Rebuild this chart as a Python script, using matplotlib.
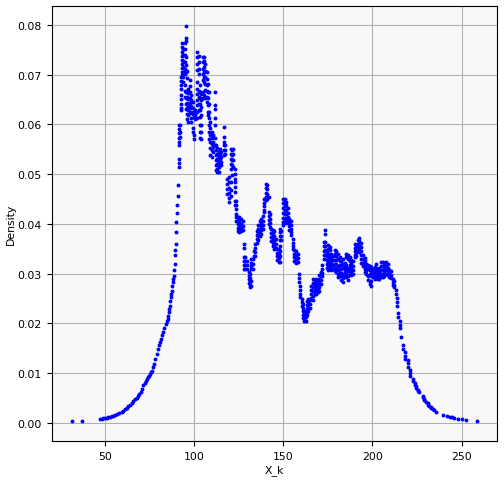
import matplotlib
matplotlib.use("Agg")
import matplotlib.pyplot as plt
import numpy as np

# Each column: an X_k value and the density values observed at it
col_x = [
    31.4, 37.0, 47.2, 48.2, 49.1, 50.0, 50.9, 51.8, 52.8, 53.7, 54.7, 55.6, 56.5, 57.9,
    59.3, 60.2, 61.2, 62.1, 63.0, 64.0, 64.9, 65.8, 66.8, 67.7, 68.6, 69.3, 70.0, 70.7,
    71.5, 72.2, 73.0, 73.6, 74.3, 74.8, 75.2, 75.6, 76.1, 76.7, 77.4, 78.1, 78.9, 79.6,
    80.4, 80.9, 81.4, 82.0, 82.6, 83.3, 84.0, 84.6, 85.1, 85.5, 85.8, 86.1, 86.4, 86.6,
    86.8, 87.1, 87.3, 87.6, 87.9, 88.1, 88.4, 88.7, 89.0, 89.2, 89.4, 89.6, 89.8, 90.0,
    90.1, 90.4, 90.7, 91.0,
    91.4, 91.6, 92.0, 92.6, 93.3, 93.9, 94.6, 95.3, 95.5, 96.0, 96.6, 97.4, 98.3, 99.3,
    100.0, 100.6, 101.7, 102.5, 103.2, 104.0, 104.7, 105.4, 106.2, 106.9, 107.7, 108.3,
    109.0, 109.7, 110.4, 111.4, 112.3, 113.0, 113.7, 114.4, 115.3, 116.6, 117.5, 118.5,
    119.3, 120.4, 121.2, 121.9, 122.8, 123.5, 124.3, 125.2, 126.2, 127.2, 127.8, 128.6,
    129.5, 130.5, 131.2, 132.0, 132.8, 133.6, 134.3, 135.1, 135.9, 136.8, 137.7, 138.6,
    139.2, 140.0, 140.8, 141.7, 142.5, 143.3, 144.1, 144.9, 145.7, 146.5, 147.3, 148.0,
    148.8, 149.9, 150.7, 151.6, 152.5, 153.3, 154.3, 155.4, 156.2, 157.1, 158.0, 158.9,
    159.6, 160.3, 161.0, 161.8, 162.5, 163.3, 164.1, 164.9, 165.7, 166.6, 167.5, 168.4,
    169.3, 170.2, 171.1, 171.9, 172.6, 173.5, 174.3, 175.1, 176.0, 176.9, 177.8, 178.8,
    179.7, 180.6, 181.6, 182.5, 183.4, 184.4, 185.3, 186.2, 187.2, 188.1, 189.0, 190.0,
    190.9, 191.8, 192.7, 193.7, 194.6, 195.6, 196.5, 197.4, 198.4, 199.3, 200.2, 201.2,
    202.1, 203.0, 203.9, 204.9, 205.8, 206.7, 207.7, 208.6, 209.5, 210.5, 211.4, 212.3,
    213.2, 213.8, 214.5, 215.2, 216.1, 217.4, 218.2, 219.9, 220.8, 222.7, 223.6, 224.5,
    225.5, 226.4, 228.2, 229.2, 230.1, 231.0, 232.0, 232.9, 233.8, 234.8, 235.7, 239.5,
    242.0, 243.5, 244.5, 246.0, 248.0, 250.0, 252.5, 258.5,
]

col_density = [
    [0.0003], [0.0003], [0.0009], [0.0009], [0.00095], [0.001], [0.0011], [0.0012],
    [0.0013], [0.0014], [0.0015], [0.0016], [0.0018], [0.002], [0.0023], [0.0025],
    [0.0028], [0.0031], [0.0034], [0.0037], [0.0040], [0.0044], [0.0048], [0.0051],
    [0.0054], [0.0058], [0.0062], [0.0069], [0.0076], [0.0081], [0.0085], [0.0089],
    [0.0092], [0.0095], [0.0099], [0.0102], [0.0105], [0.0112], [0.0119], [0.0129],
    [0.0139], [0.0148], [0.0156], [0.0162], [0.0169], [0.0176], [0.0182], [0.0190],
    [0.0199], [0.0204], [0.0208], [0.0215], [0.0223], [0.023], [0.0236], [0.0245],
    [0.0253], [0.026], [0.0266], [0.0275], [0.0283], [0.0290], [0.0296], [0.0308],
    [0.032], [0.0337], [0.0347], [0.0360], [0.0384], [0.0404], [0.0421], [0.0437],
    [0.0457], [0.0478],
    [0.0598, 0.059, 0.0582, 0.0572, 0.0565, 0.0558],
    [0.053, 0.0522, 0.0515],
    [0.0598, 0.0585, 0.0575],
    [0.0696, 0.0688, 0.068, 0.0672, 0.0659, 0.065, 0.0641, 0.0633, 0.0628],
    [0.0763, 0.0755, 0.0746, 0.0738, 0.073, 0.0722, 0.0713, 0.0705, 0.0699],
    [0.0752, 0.074, 0.0728, 0.0716, 0.0706, 0.0695, 0.0685],
    [0.0763, 0.0752, 0.074, 0.0725, 0.0712, 0.0702, 0.068, 0.0668, 0.0655],
    [0.0774, 0.0768, 0.0735, 0.072, 0.0706, 0.0665, 0.0652, 0.064, 0.063],
    [0.0798],
    [0.0708, 0.0693, 0.0668, 0.0655, 0.0643, 0.0632, 0.062, 0.061],
    [0.0672, 0.0662, 0.065, 0.0638, 0.0628, 0.0618, 0.0605],
    [0.0689, 0.0678, 0.0666, 0.0652, 0.0642, 0.0632, 0.0622],
    [0.0659, 0.0648, 0.0636, 0.0625, 0.0613, 0.0605],
    [0.0645, 0.0632, 0.062, 0.0592, 0.0585],
    [0.0625, 0.0615, 0.0578, 0.0571],
    [0.0628, 0.0618, 0.061],
    [0.0746, 0.0735, 0.0722, 0.071, 0.0685, 0.0672, 0.066, 0.0648, 0.0638, 0.0625, 0.0612],
    [0.0738, 0.0725, 0.0712, 0.0702, 0.0668, 0.0655, 0.064, 0.0628],
    [0.0679, 0.0665, 0.0652, 0.064, 0.0628, 0.0615, 0.0598, 0.0585, 0.0572],
    [0.066, 0.0648, 0.0635, 0.0618, 0.0598, 0.0585, 0.0571],
    [0.0736, 0.0725, 0.0712, 0.0702, 0.069, 0.0665, 0.0652],
    [0.0736, 0.0728, 0.0715, 0.0705, 0.0695, 0.0685, 0.0659],
    [0.0722, 0.0708, 0.0695, 0.0682, 0.0669, 0.0652],
    [0.0705, 0.0692, 0.068, 0.0668, 0.0655, 0.0645],
    [0.0682, 0.0665, 0.0652, 0.0638, 0.0625, 0.0618],
    [0.0665, 0.064, 0.0625, 0.0612, 0.0598, 0.0585, 0.057],
    [0.0605, 0.0592, 0.0578, 0.0565, 0.0552, 0.0538],
    [0.0585, 0.0572, 0.056, 0.0548, 0.0535],
    [0.0578, 0.0565, 0.0555, 0.0545],
    [0.0665, 0.0638, 0.063, 0.0612, 0.0598, 0.0572, 0.0558],
    [0.0558, 0.0548, 0.0538, 0.0528, 0.0518, 0.0508],
    [0.0552, 0.054, 0.053, 0.052, 0.051, 0.0504],
    [0.0545, 0.0535, 0.0525, 0.0515, 0.0505],
    [0.0551, 0.054, 0.053, 0.052],
    [0.0545, 0.0535, 0.0525, 0.0518],
    [0.0595, 0.0575, 0.0565, 0.0558, 0.0548, 0.0538],
    [0.0558, 0.0548, 0.054],
    [0.0491, 0.048, 0.047, 0.046],
    [0.0494, 0.0484, 0.0472, 0.0462, 0.0452, 0.0444],
    [0.0551, 0.054, 0.053, 0.052, 0.0511, 0.0485, 0.0468, 0.0457],
    [0.0548, 0.0538, 0.0528, 0.0518, 0.0498],
    [0.055, 0.054, 0.0528, 0.0515],
    [0.0511, 0.05, 0.049, 0.0484, 0.0474, 0.0464, 0.0447, 0.0438],
    [0.0447, 0.0438, 0.043, 0.042, 0.0414, 0.0405],
    [0.0414, 0.0407, 0.04, 0.0392, 0.0385],
    [0.0414, 0.0405, 0.0397, 0.039, 0.0384],
    [0.041, 0.04, 0.0392, 0.0386],
    [0.0405, 0.0395, 0.0388],
    [0.036, 0.0352, 0.0333, 0.0325, 0.0318, 0.031],
    [0.0333, 0.0325, 0.0318, 0.031],
    [0.0325, 0.0318, 0.031],
    [0.0303, 0.0296, 0.0289, 0.0282],
    [0.03, 0.0292, 0.0285, 0.0278, 0.0273],
    [0.033, 0.0322, 0.0315, 0.031, 0.0285, 0.0276],
    [0.033, 0.032, 0.031],
    [0.0345, 0.0336],
    [0.036, 0.0352, 0.0343, 0.0335],
    [0.0385, 0.0377, 0.037, 0.0362],
    [0.0397, 0.039, 0.0383, 0.0376, 0.0368],
    [0.0405, 0.0397, 0.039, 0.0382, 0.0375],
    [0.041, 0.0403, 0.0395, 0.0388, 0.038],
    [0.0415, 0.0405, 0.0398, 0.039],
    [0.045, 0.0442, 0.0435, 0.0428, 0.0424],
    [0.048, 0.0472, 0.0462, 0.0455, 0.0448],
    [0.0478, 0.047, 0.046, 0.045],
    [0.0455, 0.0424, 0.0415, 0.0408, 0.04],
    [0.042, 0.041, 0.0402, 0.0394],
    [0.039, 0.0382, 0.0374, 0.0366],
    [0.0388, 0.038, 0.037, 0.0362, 0.0355],
    [0.0385, 0.0375, 0.0365, 0.0358, 0.035],
    [0.037, 0.036, 0.0352],
    [0.035, 0.0342, 0.0335, 0.0328],
    [0.035, 0.034, 0.0332, 0.0323],
    [0.039, 0.0384, 0.0376, 0.0367, 0.0355, 0.0345, 0.0335, 0.0323],
    [0.0385, 0.0375, 0.0368],
    [0.045, 0.0442, 0.0432, 0.0422, 0.0412, 0.0404, 0.0397],
    [0.045, 0.0443, 0.0436, 0.0428, 0.042, 0.0412, 0.0405],
    [0.0445, 0.0437, 0.0428, 0.042, 0.041, 0.0402],
    [0.0432, 0.0422, 0.0413, 0.0404],
    [0.041, 0.0402, 0.0395, 0.0388],
    [0.0405, 0.0398, 0.039, 0.0383, 0.0377],
    [0.037, 0.0362, 0.0355, 0.035],
    [0.0347, 0.034, 0.0333, 0.0326],
    [0.0345, 0.0338, 0.033, 0.0322],
    [0.034, 0.0332, 0.0324],
    [0.03, 0.0292, 0.0284],
    [0.0276, 0.0268, 0.026, 0.0253],
    [0.025, 0.0243, 0.0236],
    [0.024, 0.0232, 0.0224, 0.0216, 0.021],
    [0.0225, 0.0218, 0.0211, 0.0205],
    [0.022, 0.0212, 0.0205],
    [0.0245, 0.0237, 0.023, 0.0222, 0.0216],
    [0.025, 0.0242, 0.0234, 0.0226],
    [0.0248, 0.024, 0.0232],
    [0.0276, 0.0268, 0.026, 0.0252],
    [0.029, 0.0282, 0.0273, 0.0265, 0.0256, 0.0247],
    [0.0285, 0.0277, 0.0268, 0.026],
    [0.029, 0.0282, 0.0274, 0.0266, 0.026],
    [0.0288, 0.028, 0.0272, 0.0264],
    [0.0297, 0.029, 0.0282, 0.0274, 0.0266],
    [0.0303, 0.0295, 0.0287, 0.0279],
    [0.0317, 0.031, 0.0302, 0.0295],
    [0.0363, 0.0355, 0.0345, 0.0337, 0.033],
    [0.0387, 0.038, 0.0364, 0.0355, 0.0347, 0.0337],
    [0.0343, 0.0335, 0.0327, 0.032, 0.0312],
    [0.0357, 0.0349, 0.034, 0.0332, 0.0323, 0.0315, 0.0307],
    [0.0353, 0.0347, 0.0338, 0.033, 0.0322, 0.0313],
    [0.034, 0.0332, 0.0323, 0.0315, 0.0307],
    [0.0335, 0.0327, 0.0318, 0.031],
    [0.0347, 0.034, 0.0327, 0.032, 0.0312, 0.0305],
    [0.0345, 0.0335, 0.0327, 0.032, 0.0312, 0.0304],
    [0.034, 0.033, 0.0315, 0.0307, 0.03, 0.0293],
    [0.0333, 0.0325, 0.0317, 0.031, 0.0302],
    [0.0325, 0.0318, 0.031, 0.0302, 0.0295, 0.0288],
    [0.033, 0.032, 0.0312, 0.03, 0.0292, 0.0283],
    [0.0322, 0.0313, 0.0305, 0.0298],
    [0.034, 0.0333, 0.0317, 0.031, 0.03, 0.0294],
    [0.0338, 0.033, 0.0312, 0.0305, 0.0296, 0.0288],
    [0.0333, 0.0325, 0.0317, 0.0308, 0.03],
    [0.0328, 0.032, 0.0313, 0.0305, 0.0298],
    [0.0325, 0.0316, 0.0308, 0.03],
    [0.036, 0.0352, 0.0345, 0.0338, 0.0333],
    [0.0358, 0.035, 0.0342, 0.0335],
    [0.0367, 0.036, 0.0352, 0.0345],
    [0.0372, 0.0365, 0.0357, 0.035, 0.0343],
    [0.0362, 0.0353, 0.0345, 0.0337, 0.033, 0.0322],
    [0.0337, 0.033, 0.0322, 0.0315],
    [0.0332, 0.0325, 0.0318, 0.031, 0.0303],
    [0.032, 0.0313, 0.0306, 0.03],
    [0.0318, 0.031, 0.0296, 0.0288],
    [0.0315, 0.0307, 0.03, 0.0285, 0.028],
    [0.0313, 0.0305, 0.0296, 0.0285, 0.0275],
    [0.031, 0.0302, 0.0293],
    [0.0313, 0.0305, 0.0298, 0.029],
    [0.032, 0.0312, 0.0304, 0.0296],
    [0.0305, 0.0298, 0.029],
    [0.0312, 0.0304, 0.0296, 0.029],
    [0.0323, 0.0315, 0.0307, 0.03, 0.0293],
    [0.0323, 0.0315, 0.0308, 0.03, 0.0293],
    [0.0318, 0.031, 0.0302, 0.0295],
    [0.0323, 0.0315, 0.0307, 0.03],
    [0.032, 0.0312, 0.0305, 0.0298],
    [0.0307, 0.03, 0.0293],
    [0.0305, 0.0298, 0.0292],
    [0.029, 0.0283, 0.0278],
    [0.0285, 0.0278, 0.0273],
    [0.0268, 0.026],
    [0.0252, 0.0244, 0.0236],
    [0.022, 0.0212],
    [0.0205, 0.0197, 0.019],
    [0.0172],
    [0.0156, 0.0148],
    [0.0142, 0.0135, 0.0129],
    [0.0126, 0.012, 0.0113],
    [0.0107, 0.0101, 0.0095],
    [0.0089, 0.0085],
    [0.008, 0.0077],
    [0.0074, 0.0071],
    [0.0067, 0.0064],
    [0.0062],
    [0.0055, 0.0052],
    [0.0049, 0.0046],
    [0.0043],
    [0.004, 0.0037],
    [0.0034],
    [0.0032, 0.003],
    [0.0028],
    [0.0026],
    [0.0023],
    [0.0017],
    [0.0014],
    [0.0013],
    [0.0012],
    [0.0011],
    [0.0009],
    [0.0008],
    [0.0006],
    [0.0004],
]

assert len(col_x) == len(col_density), (len(col_x), len(col_density))
xs = np.concatenate([[cx] * len(cd) for cx, cd in zip(col_x, col_density)])
ys = np.concatenate([np.asarray(cd, dtype=float) for cd in col_density])

fig = plt.figure(figsize=(5.04, 4.81), dpi=100)
ax = fig.add_axes([0.1026, 0.0805, 0.8834, 0.9049])
ax.set_facecolor("#f8f8f8")
ax.plot(xs, ys, linestyle="none", marker="o", markersize=2.8, color="blue",
        markeredgewidth=0)
ax.grid(True, color="#b0b0b0", linewidth=0.8)
ax.set_axisbelow(True)
ax.set_xlabel("X_k", fontsize=7.8, labelpad=2)
ax.set_ylabel("Density", fontsize=7.8, labelpad=1)
ax.tick_params(labelsize=7.8)
ax.set_xticks([50, 100, 150, 200, 250])
ax.set_yticks([0.0, 0.01, 0.02, 0.03, 0.04, 0.05, 0.06, 0.07, 0.08])
ax.set_yticklabels(["0.00", "0.01", "0.02", "0.03", "0.04", "0.05", "0.06", "0.07", "0.08"])
fig.savefig("out.png", dpi=100)
